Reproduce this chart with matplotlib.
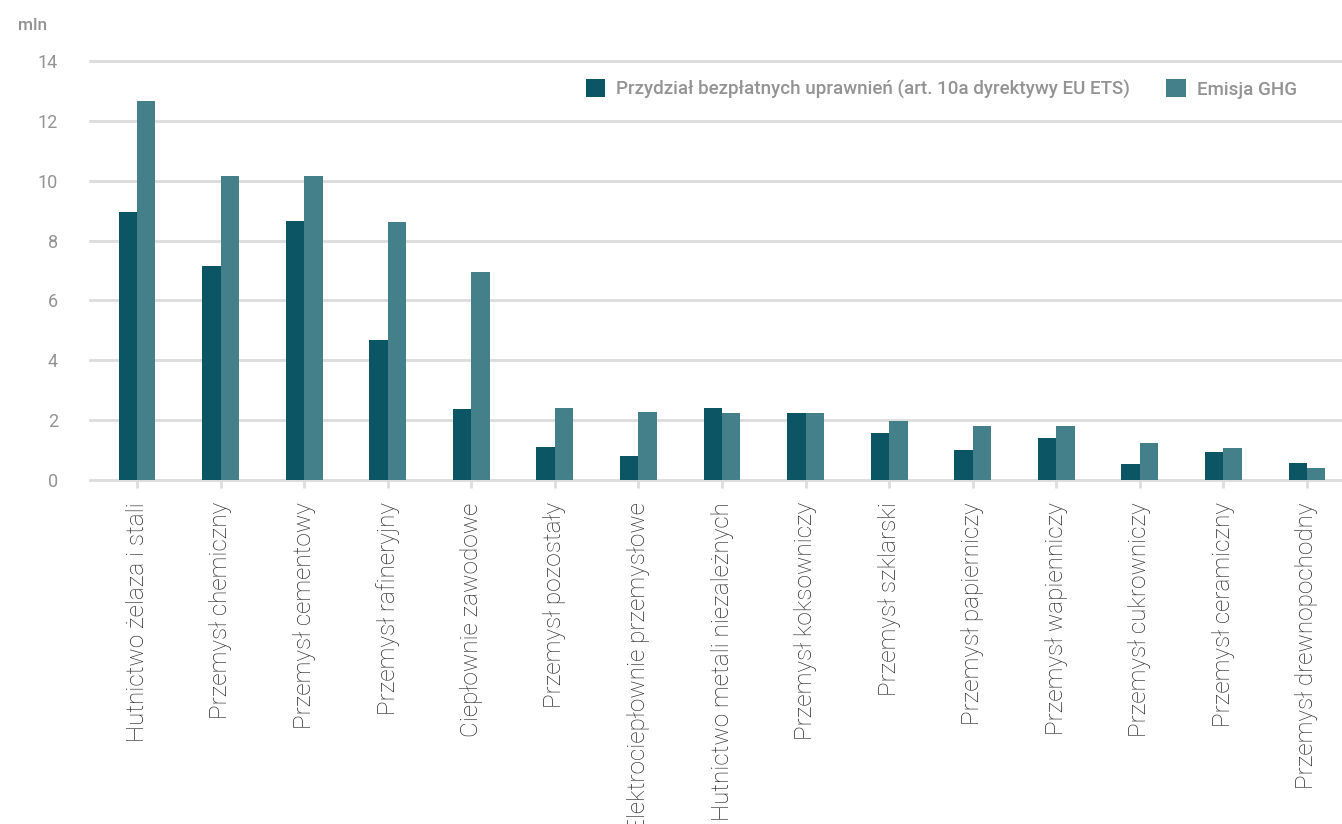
import numpy as np
import matplotlib
matplotlib.use("Agg")
import matplotlib.pyplot as plt
import matplotlib.patches as mpatches

plt.rcParams['font.family'] = ['Roboto', 'DejaVu Sans']

# Dane (mln)
kategorie = [
    "Hutnictwo żelaza i stali",
    "Przemysł chemiczny",
    "Przemysł cementowy",
    "Przemysł rafineryjny",
    "Ciepłownie zawodowe",
    "Przemysł pozostały",
    "Elektrociepłownie przemysłowe",
    "Hutnictwo metali niezależnych",
    "Przemysł koksowniczy",
    "Przemysł szklarski",
    "Przemysł papierniczy",
    "Przemysł wapienniczy",
    "Przemysł cukrowniczy",
    "Przemysł ceramiczny",
    "Przemysł drewnopochodny",
]
przydzial = [8.95, 7.15, 8.65, 4.68, 2.37, 1.10, 0.80, 2.40, 2.24, 1.57, 1.00, 1.40, 0.53, 0.93, 0.57]
emisja = [12.66, 10.16, 10.16, 8.62, 6.95, 2.40, 2.27, 2.24, 2.24, 1.97, 1.80, 1.80, 1.23, 1.07, 0.40]
y_ticks = [0, 2, 4, 6, 8, 10, 12, 14]

etykieta_1 = "Przydział bezpłatnych uprawnień (art. 10a dyrektywy EU ETS)"
etykieta_2 = "Emisja GHG"

kolor_1 = "#0c5564"
kolor_2 = "#44808a"
szary = "#dcdcdc"
tekst_szary = "#939393"

W, H = 1342, 824
fig = plt.figure(figsize=(W / 100, H / 100), dpi=100)
# osie: lewa krawędź 90 px, dół 480 px, góra ~59.5 px
ax = fig.add_axes([90 / W, (H - 480) / H, (W - 90) / W, 420.5 / H])

x = np.arange(len(kategorie))
szer = 0.22
ax.bar(x - szer / 2, przydzial, width=szer, color=kolor_1, zorder=3)
ax.bar(x + szer / 2, emisja, width=szer, color=kolor_2, zorder=3)

# zakres osi x tak, by środki grup wypadały jak w oryginale
px_na_jedn = 14 / (1307 - 137)
ax.set_xlim(-(137 - 90) * px_na_jedn, 14 + (W - 1307) * px_na_jedn)
ax.set_ylim(0, 14.05)

ax.set_yticks(y_ticks)
ax.set_yticklabels([str(v) for v in y_ticks], color=tekst_szary, fontsize=13)
ax.tick_params(axis='y', length=0, pad=23)
for v in y_ticks:
    ax.axhline(v, color=szary, linewidth=2.0, zorder=1, clip_on=False)

ax.set_xticks(x)
ax.set_xticklabels(kategorie, rotation=90, fontsize=17.5, color="#2b2b2b",
                   fontweight='light', va='top', ha='center')
ax.tick_params(axis='x', length=6, width=2, color=szary, pad=10)

for s in ax.spines.values():
    s.set_visible(False)

fig.text(18 / W, 1 - 25 / H, "mln", color=tekst_szary, fontsize=12.5,
         fontweight='medium', va='center', ha='left')

uchwyty = [
    mpatches.Patch(facecolor=kolor_1, label=etykieta_1),
    mpatches.Patch(facecolor=kolor_2, label=etykieta_2),
]
leg = fig.legend(handles=uchwyty, loc='center right', ncol=2, frameon=False,
                 bbox_to_anchor=(1297 / W, 1 - 89 / H), borderpad=0, borderaxespad=0,
                 handlelength=1.05, handleheight=1.1, handletextpad=0.6,
                 columnspacing=1.9, prop={'size': 13.5, 'weight': 'medium'})
for t in leg.get_texts():
    t.set_color(tekst_szary)

fig.savefig("out.png", dpi=100, facecolor="white")
